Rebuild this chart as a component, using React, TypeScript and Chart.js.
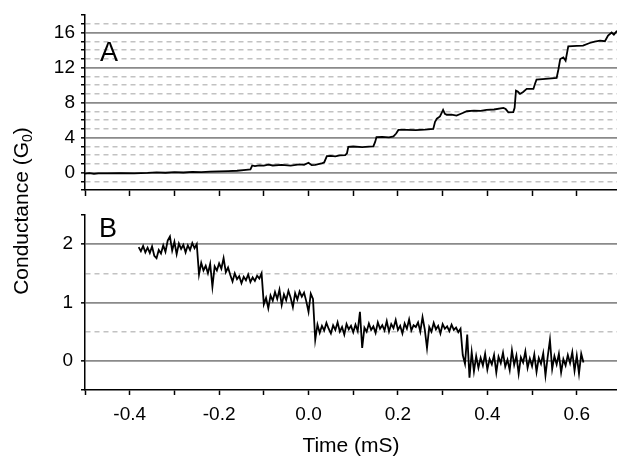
import React, { useEffect, useRef } from "react";
import { Chart, registerables } from "chart.js";

Chart.register(...registerables);

// ---------- Panel A : conductance trace (G0) vs time (mS) ----------
const aTime = [
  -0.5, -0.49, -0.48, -0.47, -0.45, -0.42, -0.39, -0.36, -0.34, -0.32,
  -0.3, -0.28, -0.26, -0.24, -0.22, -0.2, -0.18, -0.16, -0.14, -0.13,
  -0.126, -0.12, -0.11, -0.1, -0.09, -0.08, -0.06, -0.04, -0.02, -0.01,
  0.0, 0.007, 0.015, 0.029, 0.035, 0.041, 0.05, 0.06, 0.07, 0.082,
  0.086, 0.089, 0.1, 0.12, 0.135, 0.145, 0.149, 0.152, 0.165, 0.18,
  0.19, 0.196, 0.201, 0.22, 0.24, 0.26, 0.279, 0.283, 0.287, 0.294,
  0.301, 0.305, 0.309, 0.32, 0.331, 0.345, 0.354, 0.37, 0.385, 0.398,
  0.415, 0.436, 0.441, 0.447, 0.458, 0.461, 0.464, 0.468, 0.473, 0.48,
  0.488, 0.503, 0.507, 0.51, 0.53, 0.555, 0.559, 0.563, 0.57, 0.575,
  0.581, 0.6, 0.614, 0.629, 0.64, 0.652, 0.663, 0.67, 0.678, 0.683,
  0.69,
];
const aCond = [
  -0.12, -0.08, -0.15, -0.09, -0.1, -0.07, -0.09, -0.04, 0.02, -0.03,
  0.04, 0.0, 0.06, 0.05, 0.1, 0.14, 0.16, 0.2, 0.3, 0.36,
  0.8, 0.72, 0.82, 0.78, 0.9, 0.8, 0.86, 0.78, 0.92, 0.88,
  1.12, 0.84, 0.86, 1.03, 1.15, 1.86, 1.9, 1.84, 1.95, 1.98,
  2.2, 2.93, 2.97, 2.9, 2.95, 2.98, 3.5, 4.05, 4.08, 4.02,
  4.12, 4.45, 4.86, 4.88, 4.85, 4.9, 4.97, 5.8, 6.15, 6.4,
  7.15, 6.7, 6.6, 6.62, 6.5, 6.8, 7.0, 7.08, 7.05, 7.15,
  7.2, 7.38, 7.25, 6.88, 6.9, 7.4, 9.36, 9.25, 8.98, 9.2,
  9.55, 9.55, 10.2, 10.62, 10.7, 10.8, 11.8, 12.97, 13.16, 12.78,
  14.42, 14.46, 14.5, 14.8, 14.95, 15.07, 15.0, 15.64, 16.0, 15.76,
  16.2,
];

// ---------- Panel B : evenly sampled trace ----------
const bStartTime = -0.38;
const bSampleStep = 0.005;
const bCond = [
  // plateau ~2
  1.95, 1.88, 1.97, 1.86, 1.94, 1.85, 1.96, 1.8, 1.76, 1.9,
  1.84, 1.98, 1.87, 2.06, 2.13, 1.89, 2.04, 1.83, 2.01, 1.92,
  1.99, 1.86, 1.98, 1.9, 2.02, 1.93, 2.0,
  // plateau ~1.6
  1.48, 1.68, 1.55, 1.63, 1.5, 1.66, 1.27, 1.62, 1.55, 1.67,
  1.58, 1.76, 1.52, 1.6,
  // plateau ~1.4
  1.47, 1.36, 1.5, 1.4, 1.45, 1.33, 1.44, 1.38, 1.48, 1.35,
  1.43, 1.37, 1.46, 1.41, 1.5,
  // plateau ~1.1
  0.97, 1.08, 0.9, 1.12, 1.03, 1.18, 1.06, 1.22, 0.96, 1.14,
  1.04, 1.2, 1.08, 0.92, 1.16, 1.05, 1.19, 1.1, 1.17, 1.02,
  0.84, 1.15, 1.06,
  // plateau ~0.55
  0.36, 0.62, 0.48, 0.6, 0.52, 0.65, 0.55, 0.47, 0.61, 0.53,
  0.66, 0.5, 0.58, 0.45, 0.63, 0.54, 0.6, 0.49, 0.62, 0.51,
  0.84, 0.22, 0.57, 0.5, 0.64, 0.53, 0.59, 0.48, 0.66, 0.55,
  0.61, 0.52, 0.68, 0.5, 0.63, 0.56, 0.7, 0.53, 0.6, 0.47,
  0.64, 0.55, 0.71, 0.52, 0.61, 0.58, 0.66, 0.5, 0.75, 0.54,
  0.22, 0.58, 0.5, 0.65, 0.54, 0.6, 0.47, 0.63, 0.55, 0.59,
  0.51, 0.62, 0.53, 0.57, 0.49, 0.55,
  // plateau ~0
  0.1, -0.05, 0.45, -0.29, 0.15, -0.18, 0.08, -0.12, 0.05, -0.08,
  0.12, -0.15, 0.03, -0.06, 0.1, -0.2, 0.07, -0.04, 0.14, -0.1,
  0.02, -0.16, 0.18, -0.07, 0.09, -0.22, 0.06, -0.03, 0.16, -0.12,
  0.04, -0.09, 0.11, -0.19, 0.05, -0.05, 0.13, -0.25, 0.07, 0.36,
  -0.14, 0.08, -0.06, 0.12, -0.2, 0.03, -0.08, 0.1, -0.04, 0.15,
  -0.17, 0.09, -0.22, 0.12, -0.03,
];

// ---------- axes ----------
const xMin = -0.5;
const xMax = 0.69;
const xTickValues = [-0.5, -0.4, -0.3, -0.2, -0.1, 0, 0.1, 0.2, 0.3, 0.4, 0.5, 0.6];
const xLabelValues = [-0.4, -0.2, 0, 0.2, 0.4, 0.6];

const aYMin = -2;
const aYMax = 18;
const aYTickValues = [-2, -1, 0, 1, 2, 3, 4, 5, 6, 7, 8, 9, 10, 11, 12, 13, 14, 15, 16, 17, 18];
const aYLabelValues = [0, 4, 8, 12, 16];
const aYSolidLines = [0, 4, 8, 12, 16];

const bYMin = -0.5;
const bYMax = 2.5;
const bYTickValues = [-0.5, 0, 0.5, 1, 1.5, 2, 2.5];
const bYLabelValues = [0, 1, 2];
const bYSolidLines = [0, 1, 2];
const bYDashedLines = [0.5, 1.5];

const FONT = '"Liberation Sans", Arial, Helvetica, sans-serif';
const SOLID_GRID = "#8a8a8a";
const DASH_GRID = "#c2c2c2";
const TICK_FONT_SIZE = 19;

const has = (list: number[], v: number) => list.some((x) => Math.abs(x - v) < 1e-9);
const setTicks = (values: number[]) => (scale: any) => {
  scale.ticks = values.map((v) => ({ value: v }));
};

const panelLetter = (letter: string, dx: number, dy: number) => ({
  id: "panelLetter" + letter,
  afterDraw(chart: any) {
    const { ctx, chartArea } = chart;
    ctx.save();
    ctx.fillStyle = "#000";
    ctx.font = `27px ${FONT}`;
    ctx.textBaseline = "alphabetic";
    ctx.textAlign = "left";
    ctx.fillText(letter, chartArea.left + dx, chartArea.top + dy);
    ctx.restore();
  },
});

const yTitlePlugin = {
  id: "yTitle",
  afterDraw(chart: any) {
    const { ctx } = chart;
    ctx.save();
    ctx.translate(22, 211);
    ctx.rotate(-Math.PI / 2);
    ctx.fillStyle = "#000";
    ctx.textBaseline = "middle";
    ctx.textAlign = "left";
    const big = `21px ${FONT}`;
    const small = `14px ${FONT}`;
    const p1 = "Conductance (G";
    const p2 = "0";
    const p3 = ")";
    ctx.font = big;
    const w1 = ctx.measureText(p1).width;
    const w3 = ctx.measureText(p3).width;
    ctx.font = small;
    const w2 = ctx.measureText(p2).width;
    let x = -(w1 + w2 + w3) / 2;
    ctx.font = big;
    ctx.fillText(p1, x, 0);
    x += w1;
    ctx.font = small;
    ctx.fillText(p2, x, 6);
    x += w2;
    ctx.font = big;
    ctx.fillText(p3, x, 0);
    ctx.restore();
  },
};

function makeYScale(
  min: number,
  max: number,
  tickValues: number[],
  labelValues: number[],
  solid: number[],
  dashed: (v: number) => boolean,
  hiddenTicks: number[],
  labelPad: number
) {
  return {
    type: "linear",
    min,
    max,
    afterBuildTicks: setTicks(tickValues),
    afterFit: (s: any) => {
      s.width = 85;
      s.paddingTop = 0;
      s.paddingBottom = 0;
    },
    ticks: {
      autoSkip: false,
      color: "#000",
      padding: labelPad,
      font: { size: TICK_FONT_SIZE, family: FONT },
      callback: (v: number) => (has(labelValues, v) ? String(v) : ""),
    },
    grid: {
      drawTicks: true,
      tickLength: 4,
      tickWidth: 1.5,
      tickColor: (c: any) =>
        c.tick && has(hiddenTicks, c.tick.value) ? "rgba(0,0,0,0)" : "#000",
      lineWidth: (c: any) => (c.tick && has(solid, c.tick.value) ? 1.7 : 1.5),
      color: (c: any) => {
        if (!c.tick) return "rgba(0,0,0,0)";
        const v = c.tick.value;
        if (has(solid, v)) return SOLID_GRID;
        if (dashed(v)) return DASH_GRID;
        return "rgba(0,0,0,0)";
      },
    },
    border: {
      display: true,
      color: "#000",
      width: 1.5,
      dash: (c: any) => (c.tick && dashed(c.tick.value) ? [5, 4] : []),
    },
  };
}

function ChartCanvas({ config, width, height, top }: any) {
  const ref = useRef<HTMLCanvasElement>(null);
  useEffect(() => {
    if (!ref.current) return;
    const chart = new Chart(ref.current, config);
    return () => chart.destroy();
  }, [config]);
  return (
    <canvas
      ref={ref}
      width={width}
      height={height}
      style={{ position: "absolute", left: 0, top, width, height }}
    />
  );
}

const configB: any = {
  type: "line",
  data: {
    datasets: [
      {
        data: bCond.map((v, i) => ({ x: bStartTime + i * bSampleStep, y: v })),
        borderColor: "#000",
        borderWidth: 1.8,
        pointRadius: 0,
        tension: 0,
        fill: false,
      },
    ],
  },
  options: {
    animation: false,
    responsive: false,
    events: [],
    layout: { padding: { top: 215, left: 0, right: 0, bottom: 0 } },
    plugins: { legend: { display: false }, tooltip: { enabled: false } },
    scales: {
      x: {
        type: "linear",
        min: xMin,
        max: xMax,
        afterBuildTicks: setTicks(xTickValues),
        afterFit: (s: any) => {
          s.height = 69;
        },
        ticks: {
          autoSkip: false,
          maxRotation: 0,
          color: "#000",
          padding: 8,
          font: { size: TICK_FONT_SIZE, family: FONT },
          callback: (v: number) => (has(xLabelValues, v) ? v.toFixed(1) : ""),
        },
        grid: {
          drawOnChartArea: false,
          drawTicks: true,
          tickLength: 5,
          tickWidth: 1.5,
          tickColor: "#000",
        },
        border: { display: true, color: "#000", width: 1.5 },
        title: {
          display: true,
          text: "Time (mS)",
          color: "#000",
          font: { size: 21, family: FONT },
          padding: { top: 0, bottom: 0 },
        },
      },
      y: makeYScale(
        bYMin,
        bYMax,
        bYTickValues,
        bYLabelValues,
        bYSolidLines,
        (v) => has(bYDashedLines, v),
        [0.5, 1.5],
        8
      ),
    },
  },
  plugins: [panelLetter("B", 14, 22), yTitlePlugin],
};

const configA: any = {
  type: "line",
  data: {
    datasets: [
      {
        data: aTime.map((t, i) => ({ x: t, y: aCond[i] })),
        borderColor: "#000",
        borderWidth: 1.8,
        pointRadius: 0,
        tension: 0,
        fill: false,
      },
    ],
  },
  options: {
    animation: false,
    responsive: false,
    events: [],
    layout: { padding: { top: 15, left: 0, right: 0, bottom: 0 } },
    plugins: { legend: { display: false }, tooltip: { enabled: false } },
    scales: {
      x: {
        type: "linear",
        min: xMin,
        max: xMax,
        afterBuildTicks: setTicks(xTickValues),
        afterFit: (s: any) => {
          s.height = 10;
          s.paddingLeft = 0;
          s.paddingRight = 0;
        },
        ticks: { display: false },
        grid: {
          drawOnChartArea: false,
          drawTicks: true,
          tickLength: 6,
          tickWidth: 1.5,
          tickColor: "#000",
        },
        border: { display: true, color: "#000", width: 1.5 },
      },
      y: makeYScale(
        aYMin,
        aYMax,
        aYTickValues,
        aYLabelValues,
        aYSolidLines,
        (v) => v > aYMin && v < aYMax && !has(aYSolidLines, v),
        [],
        6
      ),
    },
  },
  plugins: [panelLetter("A", 15, 46)],
};

export default function App() {
  return (
    <div
      style={{
        position: "absolute",
        left: 0,
        top: 0,
        width: 617,
        height: 459,
        background: "#fff",
        overflow: "hidden",
      }}
    >
      <ChartCanvas config={configB} width={617} height={459} top={0} />
      <ChartCanvas config={configA} width={617} height={200} top={0} />
    </div>
  );
}
